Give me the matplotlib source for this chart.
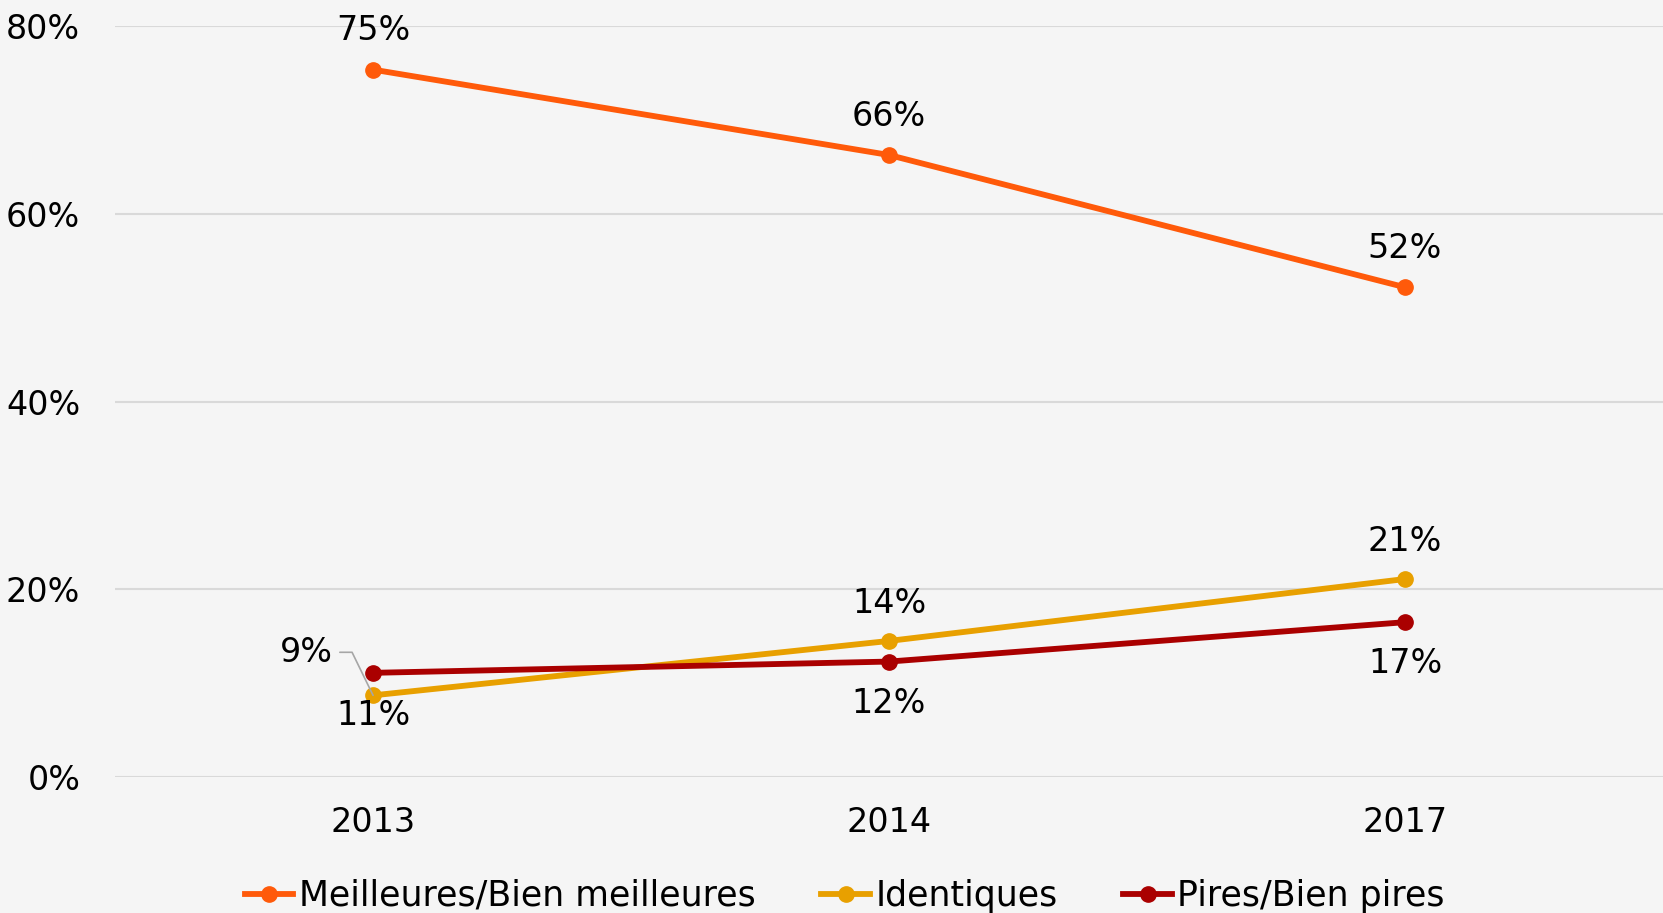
import numpy as np
import matplotlib.pyplot as plt

# Données
annees = ['2013', '2014', '2017']
meilleures = [75.4, 66.3, 52.2]
identiques = [8.7, 14.5, 21.1]
pires = [11.1, 12.3, 16.5]

lab_meilleures = ['75%', '66%', '52%']
lab_identiques = ['9%', '14%', '21%']
lab_pires = ['11%', '12%', '17%']

c_meil = '#FF5A0A'
c_iden = '#E8A000'
c_pire = '#AA0000'
fond = '#F5F5F5'

plt.rcParams['font.family'] = ['DejaVu Sans']
fs = 24

fig = plt.figure(figsize=(16.63, 9.13), dpi=100, facecolor=fond)
ax = fig.add_axes([0.0692, 0.149, 0.9308, 0.822], facecolor=fond)

x = np.arange(len(annees))
ax.plot(x, meilleures, '-o', color=c_meil, lw=4.2, ms=11, label='Meilleures/Bien meilleures', zorder=3)
ax.plot(x, identiques, '-o', color=c_iden, lw=4.2, ms=11, label='Identiques', zorder=3)
ax.plot(x, pires, '-o', color=c_pire, lw=4.2, ms=11, label='Pires/Bien pires', zorder=3)

ax.set_xlim(-0.5, 2.5)
ax.set_ylim(0, 80)
ax.set_yticks([0, 20, 40, 60, 80])
ax.set_yticklabels(['0%', '20%', '40%', '60%', '80%'])
ax.set_xticks(x)
ax.set_xticklabels(annees)
ax.tick_params(length=0, labelsize=fs, colors='black')
ax.tick_params(axis='y', pad=25)
ax.tick_params(axis='x', pad=21)
ax.grid(axis='y', color='#D9D9D9', lw=1.5)
ax.set_axisbelow(True)
for s in ax.spines.values():
    s.set_visible(False)

# Étiquettes de données
def etiquette(xi, yi, txt, dy):
    ax.annotate(txt, (xi, yi), xytext=(0, dy), textcoords='offset points',
                ha='center', va='center', fontsize=fs)

for i in range(3):
    etiquette(x[i], meilleures[i], lab_meilleures[i], 28)
for i in (1, 2):
    etiquette(x[i], identiques[i], lab_identiques[i], 27)
    etiquette(x[i], pires[i], lab_pires[i], -30)
# 2013 : étiquettes décalées
etiquette(x[0], pires[0], lab_pires[0], -31)
ax.annotate(lab_identiques[0], (x[0], identiques[0]), xytext=(-48, 31), textcoords='offset points',
            ha='center', va='center', fontsize=fs,
            arrowprops=dict(arrowstyle='-', color='#A6A6A6', lw=1.2,
                            connectionstyle='angle,angleA=0,angleB=116,rad=0',
                            shrinkA=3, shrinkB=0))

fig.legend(loc='center', bbox_to_anchor=(0.508, 0.019), ncol=3, frameon=False,
           fontsize=25, handlelength=1.4, handletextpad=0.15, columnspacing=1.9)

fig.savefig('out.png', dpi=100, facecolor=fond)
